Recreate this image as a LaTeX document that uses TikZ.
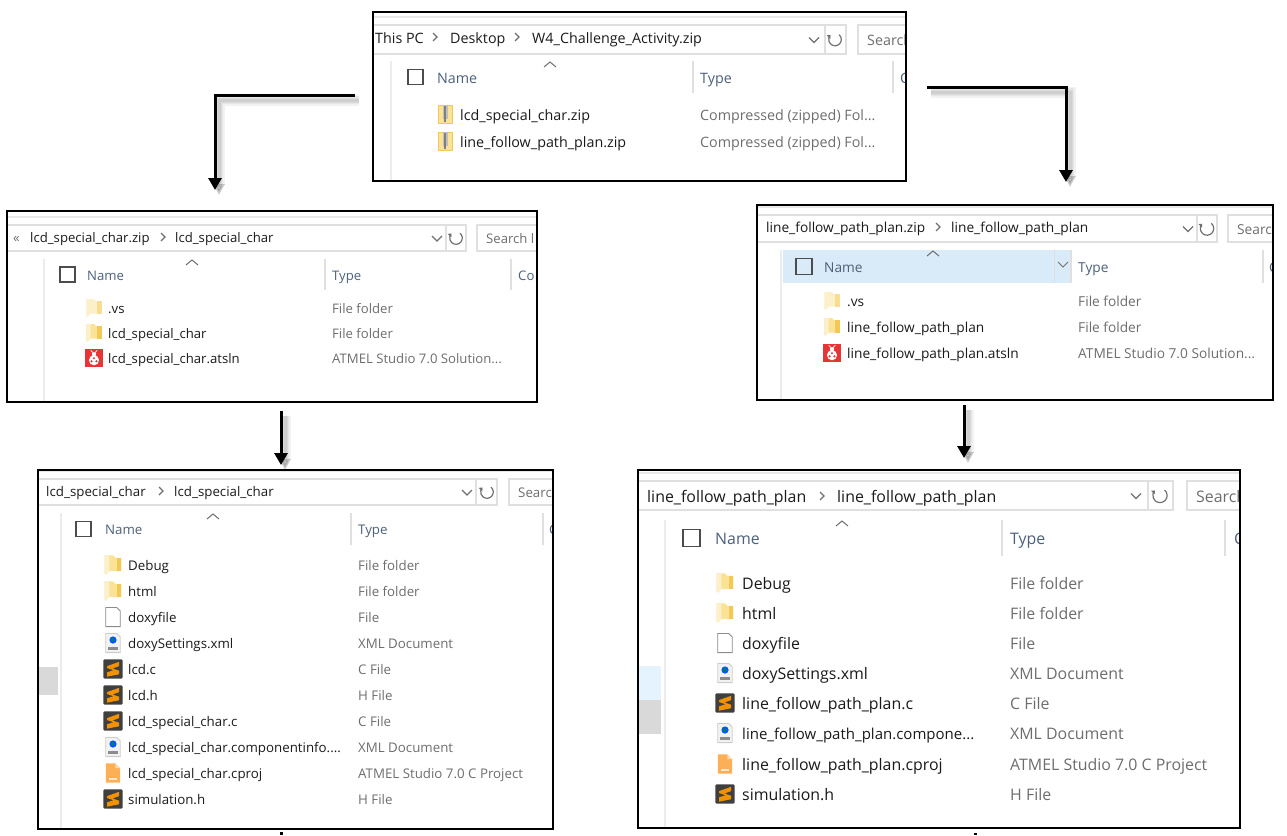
\documentclass[tikz,border=0pt]{standalone}
\usepackage{fontspec}
\setmainfont{Open Sans}
\usetikzlibrary{positioning}
\usetikzlibrary{arrows.meta}
\tikzstyle{screenGrid} = [x = 1pt, y = -1pt]
\definecolor{chromeColor}{RGB}{224,224,224}
\definecolor{headColor}{RGB}{76,96,122}
\definecolor{typeColor}{RGB}{109,109,109}
\definecolor{nameColor}{RGB}{26,26,26}
\definecolor{glyphColor}{RGB}{112,112,112}
\definecolor{hoverColor}{RGB}{217,235,248}
\definecolor{paleHover}{RGB}{229,243,255}
\definecolor{patchColor}{RGB}{217,217,217}
\definecolor{folderColor}{RGB}{250,226,150}
\definecolor{folderDark}{RGB}{244,200,84}
\definecolor{ladyColor}{RGB}{232,52,52}
\definecolor{sublimeColor}{RGB}{63,63,63}
\definecolor{sublimeOrange}{RGB}{243,146,0}
\definecolor{projColor}{RGB}{251,176,88}
\tikzstyle{panelBox} = [draw = black, line width = 2pt, inner sep = 0, outer sep = 0, rectangle]
\tikzstyle{chromeLine} = [color = chromeColor, line width = 1.2pt]
\tikzstyle{glyphLine} = [color = glyphColor, line width = 1.2pt]
\tikzstyle{panelText} = [anchor = base west, inner sep = 0, yshift = {-.43pt * \textSize}, font = \fontsize{\textSize}{\textSize}\selectfont]
\tikzstyle{addressText} = [panelText, color = nameColor]
\tikzstyle{searchText} = [panelText, color = typeColor]
\tikzstyle{headText} = [panelText, color = headColor]
\tikzstyle{nameText} = [panelText, color = nameColor]
\tikzstyle{typeText} = [panelText, color = typeColor]
\tikzstyle{flowArrow} = [color = black, line width = 3pt, -{Triangle[length = 12pt, width = 13pt]}]
\tikzstyle{flowShadow} = [color = black, opacity = .05, -{Triangle[length = 11pt, width = 11pt]}]
\tikzstyle{stubLine} = [color = black, line width = 3pt]
\newcommand{\shadowArrow}[2]{
  \foreach \spread in {11,8,5,3} {
    \draw [flowShadow, line width = \spread pt] ([shift = {(4,5)}]#1) -| ([shift = {(4,5)}]#2);
  }
  \draw [flowArrow] (#1) -| (#2);
}
\newcommand{\panelFrame}[5]{\node (#1) [panelBox, minimum width = {(#4 - #2) * 1pt}, minimum height = {(#5 - #3) * 1pt}] at ({(#2 + #4) / 2}, {(#3 + #5) / 2}) {};}
\newcommand{\addressBar}[9]{
  \draw [chromeLine, color = chromeColor!70] (#1, #2 - 8) -- (#9, #2 - 8);
  \draw [chromeLine] (#1, #2) -- (#7, #2) -- (#7, #3) -- (#1, #3);
  \draw [chromeLine] (#5, #2) -- (#5, #3);
  \draw [chromeLine] (#9, #2) -- (#8, #2) -- (#8, #3) -- (#9, #3);
  \draw [glyphLine] (#4 - 5, {(#2 + #3) / 2 - 2}) -- + (5, 5) -- + (10, 0);
  \pgfmathsetmacro{\refreshRadius}{\boxSize * .42}
  \draw [glyphLine, -{Triangle[length = 3pt, width = 5pt]}] ({#6 + \refreshRadius * cos(-50)}, {(#2 + #3) / 2 + \refreshRadius * sin(-50)}) arc [start angle = -50, end angle = 225, radius = \refreshRadius];
  \node (#1searchLabel) [searchText] at (#8 + 9, {(#2 + #3) / 2}) {Search l};
}
\newcommand{\crumbMark}[2]{\draw [glyphLine] (#1 - 2, #2 - 4) -- + (4, 4) -- + (0, 8);}
\newcommand{\columnHead}[9]{
  \draw [chromeLine, color = chromeColor!60] (#1, #2) -- (#1, 835);
  \draw [chromeLine] (#6, #2) -- (#6, #3);
  \draw [chromeLine] (#8, #2) -- (#8, #3);
  \draw [glyphLine, line width = 1pt, color = typeColor] (#5 - 6, #2 + 6) -- + (6, -5) -- + (12, 0);
  \draw [color = black!70, line width = 1.2pt] (#4, {(#2 + #3) / 2 - \boxSize / 2}) rectangle + (\boxSize, \boxSize);
  \node (#1headName) [headText] at (\headAt, {(#2 + #3) / 2}) {Name};
  \node (#1headType) [headText] at (#7, {(#2 + #3) / 2}) {Type};
  \node (#1headMore) [headText] at (#9, {(#2 + #3) / 2}) {Co};
}
\newcommand{\fileRow}[5]{
  \begin{scope}[shift = {(\iconAt, #2)}, scale = \iconScale]
    #3
  \end{scope}
  \node (#1Name) [nameText] at (\nameAt, #2) {#4};
  \node (#1Type) [typeText] at (\typeAt, #2) {#5};
}
\newcommand{\folderIcon}{
  \fill [folderColor] (-7, -8) -- (0, -8) -- (2, -6) -- (7, -6) -- (7, 5) -- (-3, 5) -- (-6, 8) -- (-7, 7) -- cycle;
  \fill [folderColor!50] (-7, -8) -- (-3, -8) -- (-3, 5) -- (-6, 8) -- (-7, 7) -- cycle;
  \fill [folderDark] (3, -6) -- (7, -6) -- (7, 5) -- (3, 5) -- cycle;
}
\newcommand{\paleFolderIcon}{
  \begin{scope}[opacity = .5]
    \folderIcon
  \end{scope}
}
\newcommand{\zipIcon}{
  \filldraw [fill = folderColor, draw = folderDark, line width = .8pt] (-7, -9) rectangle (7, 9);
  \fill [gray!50] (-2.5, -9) rectangle (2.5, 5);
  \fill [gray] (-1, -8) rectangle (1, 8);
}
\newcommand{\ladyIcon}{
  \fill [ladyColor] (-8, -8) rectangle (8, 8);
  \fill [white] (0, 2) circle (4.6);
  \fill [white] (0, -3.4) circle (2);
  \draw [white, line width = .8pt] (-1, -5) -- (-3, -7) (1, -5) -- (3, -7);
  \foreach \spotX/\spotY in {0/0.2, -2.2/3, 2.2/3} {
    \fill [ladyColor] (\spotX, \spotY) circle (1.1);
  }
}
\newcommand{\sublimeIcon}{
  \fill [sublimeColor, rounded corners = 1pt] (-8, -8) rectangle (8, 8);
  \fill [sublimeOrange] (5, -6) -- (5, -2.4) -- (-.5, -.4) -- (5, 1.4) -- (5, 4.4) -- (-5, 6.4) -- (-5, 2.8) -- (.5, 1) -- (-5, -.8) -- (-5, -2.4) -- cycle;
}
\newcommand{\blankIcon}{
  \filldraw [fill = white, draw = black!45, line width = .8pt] (-6, -8) -- (3, -8) -- (6, -5) -- (6, 8) -- (-6, 8) -- cycle;
}
\newcommand{\xmlIcon}{
  \filldraw [fill = black!5, draw = black!20, line width = .8pt] (-6, -8) -- (3, -8) -- (6, -5) -- (6, 8) -- (-6, 8) -- cycle;
  \fill [blue!65!cyan] (0, -2.5) circle (3);
  \fill [green!55!black] (-.5, -2.8) circle (1.3);
  \fill [black!45] (-4, 3) rectangle (4, 6);
}
\newcommand{\projIcon}{
  \fill [projColor] (-6, -8) -- (2, -8) -- (6, -4) -- (6, 8) -- (-6, 8) -- cycle;
  \fill [projColor!45] (2, -8) -- (6, -4) -- (2, -4) -- cycle;
  \fill [white!70!projColor] (-3, 4) rectangle (3, 5.5);
}
\begin{document}
\begin{tikzpicture}[screenGrid]
  \useasboundingbox (0,0) rectangle (1287,835);
  \begin{scope}
    \clip (373,12) rectangle (906,181);
    \def\textSize{14.3} \def\boxSize{15} \def\iconAt{445} \def\iconScale{1.0} \def\nameAt{460} \def\typeAt{700} \def\headAt{437}
    \addressBar{373}{25}{54}{814}{825}{835}{846}{858}{906}
    \node (rootCrumbA) [addressText] at (375,37) {This PC};
    \crumbMark{435}{37}
    \node (rootCrumbB) [addressText] at (450,37) {Desktop};
    \crumbMark{517}{37}
    \node (rootCrumbC) [addressText] at (532,37) {W4\_Challenge\_Activity.zip};
    \columnHead{391}{61}{93}{408}{550}{693}{700}{893}{900}
    \fileRow{lcdZip}{114}{\zipIcon}{lcd\_special\_char.zip}{Compressed (zipped) Fol...}
    \fileRow{lineZip}{141}{\zipIcon}{line\_follow\_path\_plan.zip}{Compressed (zipped) Fol...}
  \end{scope}
  \panelFrame{rootPanel}{373}{12}{906}{181}

  \begin{scope}
    \clip (7,211) rectangle (537,402);
    \def\textSize{13.15} \def\boxSize{15} \def\iconAt{94} \def\iconScale{1.1} \def\nameAt{108} \def\typeAt{332} \def\headAt{87}
    \addressBar{7}{225}{251}{437}{446}{456}{466}{477}{537}
    \node (lcdZipCrumbMore) [searchText] at (13,237) {«};
    \node (lcdZipCrumbA) [addressText] at (30,237) {lcd\_special\_char.zip};
    \crumbMark{163}{237}
    \node (lcdZipCrumbB) [addressText] at (175,237) {lcd\_special\_char};
    \columnHead{44}{259}{290}{60}{192}{325}{332}{511}{518}
    \fileRow{vsLeft}{308}{\paleFolderIcon}{.vs}{File folder}
    \fileRow{lcdFolder}{333}{\folderIcon}{lcd\_special\_char}{File folder}
    \fileRow{lcdSolution}{358}{\ladyIcon}{lcd\_special\_char.atsln}{ATMEL Studio 7.0 Solution...}
  \end{scope}
  \panelFrame{lcdZipPanel}{7}{211}{537}{402}

  \begin{scope}
    \clip (757,205) rectangle (1273,400);
    \fill [hoverColor] (783,250) rectangle (1071,283);
    \draw [white!80!headColor, line width = 1pt] (1054,250) -- (1054,283);
    \draw [glyphLine, line width = 1pt] (1058,262) -- + (5, 5) -- + (10, 0);
    \def\textSize{13.7} \def\boxSize{16} \def\iconAt{832} \def\iconScale{1.1} \def\nameAt{847} \def\typeAt{1078} \def\headAt{824}
    \addressBar{757}{215}{242}{1188}{1197}{1207}{1217}{1228}{1273}
    \node (lineZipCrumbA) [addressText] at (766,227) {line\_follow\_path\_plan.zip};
    \crumbMark{938}{227}
    \node (lineZipCrumbB) [addressText] at (951,227) {line\_follow\_path\_plan};
    \columnHead{781}{250}{283}{796}{933}{1071}{1078}{1263}{1269}
    \fileRow{vsRight}{301}{\paleFolderIcon}{.vs}{File folder}
    \fileRow{lineFolder}{327}{\folderIcon}{line\_follow\_path\_plan}{File folder}
    \fileRow{lineSolution}{353}{\ladyIcon}{line\_follow\_path\_plan.atsln}{ATMEL Studio 7.0 Solution...}
  \end{scope}
  \panelFrame{lineZipPanel}{757}{205}{1273}{400}

  \begin{scope}
    \clip (38,470) rectangle (553,829);
    \fill [patchColor] (38,667) rectangle (58,695);
    \def\textSize{13.3} \def\boxSize{15} \def\iconAt{113} \def\iconScale{1.2} \def\nameAt{128} \def\typeAt{358} \def\headAt{105}
    \addressBar{38}{479}{505}{467}{476}{487}{497}{509}{553}
    \node (lcdDirCrumbA) [addressText] at (46,491) {lcd\_special\_char};
    \crumbMark{161}{491}
    \node (lcdDirCrumbB) [addressText] at (174,491) {lcd\_special\_char};
    \columnHead{61}{513}{545}{76}{213}{351}{358}{543}{549}
    \fileRow{lcdDebug}{565}{\folderIcon}{Debug}{File folder}
    \fileRow{lcdHtml}{591}{\folderIcon}{html}{File folder}
    \fileRow{lcdDoxy}{617}{\blankIcon}{doxyfile}{File}
    \fileRow{lcdSettings}{643}{\xmlIcon}{doxySettings.xml}{XML Document}
    \fileRow{lcdC}{669}{\sublimeIcon}{lcd.c}{C File}
    \fileRow{lcdH}{695}{\sublimeIcon}{lcd.h}{H File}
    \fileRow{lcdCharC}{721}{\sublimeIcon}{lcd\_special\_char.c}{C File}
    \fileRow{lcdInfo}{747}{\xmlIcon}{lcd\_special\_char.componentinfo....}{XML Document}
    \fileRow{lcdProj}{773}{\projIcon}{lcd\_special\_char.cproj}{ATMEL Studio 7.0 C Project}
    \fileRow{lcdSim}{799}{\sublimeIcon}{simulation.h}{H File}
  \end{scope}
  \panelFrame{lcdDirPanel}{38}{470}{553}{829}

  \begin{scope}
    \clip (638,470) rectangle (1240,828);
    \fill [paleHover] (638,666) rectangle (661,700);
    \fill [patchColor] (638,700) rectangle (661,734);
    \def\textSize{15.9} \def\boxSize{17} \def\iconAt{725} \def\iconScale{1.2} \def\nameAt{742} \def\typeAt{1010} \def\headAt{715}
    \addressBar{638}{481}{510}{1136}{1148}{1160}{1173}{1187}{1240}
    \node (lineDirCrumbA) [addressText] at (647,496) {line\_follow\_path\_plan};
    \crumbMark{822}{496}
    \node (lineDirCrumbB) [addressText] at (837,496) {line\_follow\_path\_plan};
    \columnHead{665}{520}{556}{683}{842}{1002}{1010}{1225}{1234}
    \fileRow{lineDebug}{583}{\folderIcon}{Debug}{File folder}
    \fileRow{lineHtml}{613}{\folderIcon}{html}{File folder}
    \fileRow{lineDoxy}{643}{\blankIcon}{doxyfile}{File}
    \fileRow{lineSettings}{673}{\xmlIcon}{doxySettings.xml}{XML Document}
    \fileRow{lineC}{703}{\sublimeIcon}{line\_follow\_path\_plan.c}{C File}
    \fileRow{lineInfo}{733}{\xmlIcon}{{\fontsize{15}{15}\selectfont line\_follow\_path\_plan.compone...}}{XML Document}
    \fileRow{lineProj}{764}{\projIcon}{line\_follow\_path\_plan.cproj}{ATMEL Studio 7.0 C Project}
    \fileRow{lineSim}{794}{\sublimeIcon}{simulation.h}{H File}
  \end{scope}
  \panelFrame{lineDirPanel}{638}{470}{1240}{828}

  \coordinate (rootOutLeft) at (355,95);
  \coordinate (lcdZipIn) at (215,190);
  \coordinate (rootOutRight) at (927,87);
  \coordinate (lineZipIn) at (1066,182);
  \coordinate (lcdZipOut) at (281,411);
  \coordinate (lcdDirIn) at (281,465);
  \coordinate (lineZipOut) at (964,405);
  \coordinate (lineDirIn) at (964,458);
  \shadowArrow{rootOutLeft}{lcdZipIn}
  \shadowArrow{rootOutRight}{lineZipIn}
  \shadowArrow{lcdZipOut}{lcdDirIn}
  \shadowArrow{lineZipOut}{lineDirIn}

  \coordinate (lcdStubTop) at (281,832);
  \coordinate (lcdStubEnd) at (281,835);
  \coordinate (lineStubTop) at (975,833);
  \coordinate (lineStubEnd) at (975,835);
  \draw [stubLine] (lcdStubTop) -- (lcdStubEnd);
  \draw [stubLine] (lineStubTop) -- (lineStubEnd);
\end{tikzpicture}
\end{document}
